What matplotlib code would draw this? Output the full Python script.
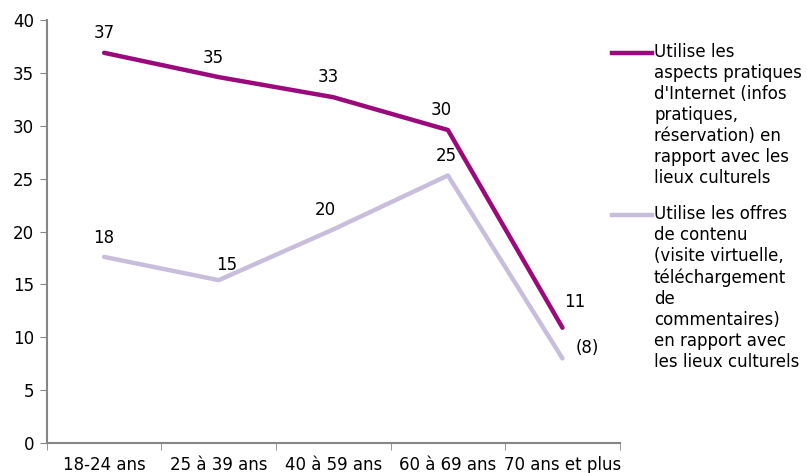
import matplotlib.pyplot as plt
from matplotlib.lines import Line2D

categories = ["18-24 ans", "25 à 39 ans", "40 à 59 ans", "60 à 69 ans", "70 ans et plus"]
pratiques = [36.9, 34.6, 32.7, 29.6, 10.9]
pratiques_labels = ["37", "35", "33", "30", "11"]
contenu = [17.6, 15.4, 20.2, 25.3, 8.0]
contenu_labels = ["18", "15", "20", "25", "(8)"]

legend_pratiques = ("Utilise les\naspects pratiques\nd'Internet (infos\npratiques,\n"
                    "réservation) en\nrapport avec les\nlieux culturels")
legend_contenu = ("Utilise les offres\nde contenu\n(visite virtuelle,\ntéléchargement\nde\n"
                  "commentaires)\nen rapport avec\nles lieux culturels")

col_pratiques = "#9B0A7D"
col_contenu = "#C8BEDB"
axis_col = "#868686"

plt.rcParams["font.family"] = "DejaVu Sans"
plt.rcParams["font.size"] = 12

fig = plt.figure(figsize=(8.07, 4.73), dpi=100)
ax = fig.add_axes([0.058, 0.0634, 0.710, 0.8943])

x = list(range(len(categories)))
ax.plot(x, pratiques, color=col_pratiques, lw=3.2, solid_capstyle="round")
ax.plot(x, contenu, color=col_contenu, lw=3.2, solid_capstyle="round")

# data labels (offsets in pixels from the point)
off_p = [(0, 20), (-5, 19), (-5, 20), (-7, 20), (12, 26)]
off_c = [(0, 19), (8, 15), (-8, 19), (-2, 19), (25, 10)]
for i, (v, lab) in enumerate(zip(pratiques, pratiques_labels)):
    ax.annotate(lab, (i, v), xytext=off_p[i], textcoords="offset pixels",
                ha="center", va="center")
for i, (v, lab) in enumerate(zip(contenu, contenu_labels)):
    ax.annotate(lab, (i, v), xytext=off_c[i], textcoords="offset pixels",
                ha="center", va="center")

ax.set_xlim(-0.5, len(categories) - 0.5)
ax.set_ylim(0, 40)
ax.set_yticks(range(0, 41, 5))
ax.set_xticks(x)
ax.set_xticklabels(categories)
ax.set_xticks([i - 0.5 for i in range(len(categories) + 1)], minor=True)
ax.tick_params(axis="x", which="major", length=0, pad=9)
ax.tick_params(axis="x", which="minor", length=5, color=axis_col, direction="out")
ax.tick_params(axis="y", length=5, color=axis_col, direction="out", pad=4)

for s in ["top", "right"]:
    ax.spines[s].set_visible(False)
for s in ["left", "bottom"]:
    ax.spines[s].set_color(axis_col)
    ax.spines[s].set_linewidth(1.5)

# legend
for y_px, col, txt in [(53, col_pratiques, legend_pratiques), (215, col_contenu, legend_contenu)]:
    yf = 1 - y_px / 473
    fig.add_artist(Line2D([612 / 807, 652 / 807], [yf, yf], color=col, lw=3.2,
                          transform=fig.transFigure))
    fig.text(654 / 807, 1 - (y_px - 10) / 473, txt, ha="left", va="top",
             linespacing=1.22)

fig.savefig("out.png", dpi=100)
